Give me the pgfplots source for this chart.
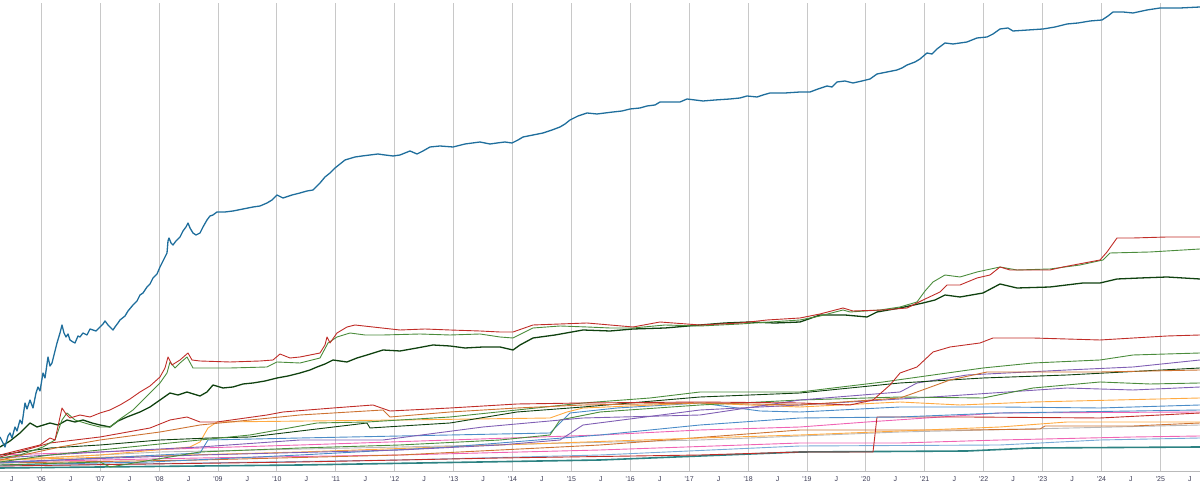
\documentclass[border=0pt]{standalone}
\usepackage{fontspec}
\usepackage{pgfplots}
\pgfplotsset{compat=1.18}
\newfontfamily\tickfont{Liberation Sans}
\definecolor{mainblue}{RGB}{31,110,156}
\definecolor{cred}{RGB}{192,45,40}
\definecolor{cgreen}{RGB}{75,140,60}
\definecolor{cdkgreen}{RGB}{15,65,15}
\definecolor{cpurple}{RGB}{128,95,180}
\definecolor{corange}{RGB}{255,170,65}
\definecolor{cbrown}{RGB}{205,115,50}
\definecolor{csteel}{RGB}{75,140,200}
\definecolor{cpink}{RGB}{240,100,180}
\definecolor{cteal}{RGB}{45,130,130}
\definecolor{clblue}{RGB}{120,170,215}
\definecolor{cgrey}{RGB}{185,185,185}
\definecolor{gridc}{RGB}{200,200,200}
\definecolor{labc}{RGB}{60,60,85}
\begin{document}
\begin{tikzpicture}
\begin{axis}[
  scale only axis, width=1200pt, height=468pt,
  xmin=0, xmax=1200, ymin=0, ymax=468,
  axis y line=none, axis x line*=bottom,
  x axis line style={draw=cgrey, line width=0.8pt, -},
  xtick={41.3,100.2,159.1,218.0,276.9,335.8,394.7,453.6,512.5,571.4,630.3,689.2,748.1,807.0,865.9,924.8,983.7,1042.6,1101.5,1160.4},
  xticklabels={{'06},{'07},{'08},{'09},{'10},{'11},{'12},{'13},{'14},{'15},{'16},{'17},{'18},{'19},{'20},{'21},{'22},{'23},{'24},{'25}},
  extra x ticks={11.85,70.75,129.65,188.55,247.45,306.35,365.25,424.15,483.05,541.95,600.85,659.75,718.65,777.55,836.45,895.35,954.25,1013.15,1072.05,1130.95,1189.85},
  extra x tick labels={J,J,J,J,J,J,J,J,J,J,J,J,J,J,J,J,J,J,J,J,J},
  extra x tick style={grid=none},
  major tick length=0pt,
  xmajorgrids, grid style={draw=gridc, line width=1pt},
  ticklabel style={font=\tickfont\fontsize{7}{8}\selectfont, text=labc},
  xticklabel style={anchor=center, yshift=-8pt},
  line join=round,
  every axis plot/.append style={line width=0.9pt},
]
% lower cluster
\addplot[cteal, line width=1.6pt] coordinates {(0,3)(300,6)(600,11)(800,19)(967,20)(1033,23)(1200,24)};
\addplot[clblue] coordinates {(0,5)(400,11)(600,16)(800,25)(1000,26)(1100,31)(1200,33)};
\addplot[cgrey] coordinates {(0,11)(160,19)(400,24)(700,31)(900,39)(1200,46)};
\addplot[cpink] coordinates {(0,9)(200,13)(400,16)(600,21)(800,28)(900,28)(1000,31)(1133,34)(1200,35)};
\addplot[cbrown] coordinates {(0,8)(200,11)(400,16)(600,26)(800,41)(967,41)(1040,42)(1045,45)(1133,45)(1200,48)};
\addplot[corange] coordinates {(0,11)(300,19)(500,26)(700,33)(800,36)(1000,44)(1067,49)(1200,49)};
\addplot[cpink] coordinates {(0,16)(100,19)(200,23)(300,26)(450,31)(600,36)(700,41)(800,44)(867,49)(1000,58)(1200,59)};
\addplot[cred] coordinates {(0,5)(300,9)(500,13)(700,16)(800,19)(873,19)(877,54)(967,54)(1100,53)(1200,58)};
\addplot[csteel] coordinates {(0,6)(150,9)(300,16)(450,24)(600,36)(700,46)(800,53)(900,54)(1000,58)(1200,61)};
\addplot[csteel] coordinates {(0,8)(100,13)(200,18)(208,31)(300,33)(400,35)(550,38)(570,58)(617,63)(700,68)(760,60)(800,59)(900,64)(1000,64)(1100,63)(1200,66)};
\addplot[corange] coordinates {(0,11)(100,16)(190,24)(200,29)(208,43)(217,49)(400,51)(550,53)(567,59)(583,63)(700,68)(800,64)(900,69)(960,66)(1033,69)(1200,73)};
\addplot[cpurple] coordinates {(0,9)(200,16)(400,21)(500,26)(560,31)(583,46)(700,61)(800,66)(933,74)(1067,83)(1133,81)(1200,84)};
\addplot[cgreen] coordinates {(0,6)(100,9)(110,4)(200,19)(300,23)(400,26)(500,31)(550,36)(560,51)(600,59)(700,66)(800,71)(900,74)(983,73)(1033,83)(1100,89)(1150,87)(1200,88)};
\addplot[cpurple] coordinates {(0,13)(100,19)(200,24)(300,31)(383,31)(483,44)(583,53)(700,56)(800,71)(900,79)(917,88)(967,96)(1067,101)(1133,104)(1200,111)};
\addplot[cdkgreen] coordinates {(0,16)(50,23)(100,26)(160,31)(210,33)(250,34)(367,48)(370,43)(450,48)(517,59)(583,64)(700,74)(800,78)(900,88)(983,93)(1067,96)(1200,103)};
\addplot[cgreen] coordinates {(0,9)(50,16)(100,21)(150,26)(200,31)(250,36)(317,48)(367,49)(450,54)(517,61)(583,68)(650,73)(700,79)(800,79)(833,83)(883,89)(933,96)(983,103)(1033,108)(1100,111)(1133,116)(1200,118)};
\addplot[cbrown] coordinates {(0,11)(60,24)(100,31)(160,39)(200,46)(250,51)(300,56)(383,61)(390,54)(450,59)(517,63)(583,66)(700,68)(800,66)(900,73)(917,79)(950,91)(987,99)(1100,99)(1200,101)};
\addplot[cred] coordinates {(0,14)(50,28)(100,34)(150,43)(170,51)(187,54)(200,49)(217,49)(267,56)(283,59)(333,63)(373,66)(390,60)(450,63)(517,67)(583,68)(700,69)(800,68)(850,66)(873,71)(890,86)(900,98)(917,104)(933,119)(950,124)(980,128)(993,133)(1033,133)(1100,131)(1167,135)(1200,136)};
% upper group
\addplot[cdkgreen, line width=1.3pt] coordinates {(0,24)(10,30)(20,38)(30,48)(37,44)(50,48)(58,46)(67,51)(75,49)(83,51)(92,48)(100,46)(110,44)(118,50)(127,54)(140,59)(150,64)(160,71)(170,78)(178,76)(187,79)(200,75)(207,79)(213,86)(223,83)(233,84)(243,87)(253,88)(265,90)(277,93)(288,95)(300,98)(310,101)(317,104)(325,107)(333,111)(347,109)(357,113)(367,116)(383,121)(400,120)(417,123)(433,126)(450,125)(465,123)(483,124)(500,124)(513,121)(520,126)(533,133)(555,136)(583,141)(610,140)(633,142)(665,143)(700,146)(725,148)(750,149)(775,148)(800,149)(820,156)(845,156)(867,154)(877,159)(900,163)(923,168)(935,171)(945,176)(960,174)(983,178)(1000,187)(1017,183)(1050,184)(1083,188)(1100,188)(1117,192)(1140,193)(1167,194)(1200,192)};
\addplot[cgreen] coordinates {(0,13)(20,16)(43,24)(55,31)(62,51)(67,58)(75,51)(88,47)(100,44)(110,44)(120,52)(133,61)(140,68)(150,78)(160,88)(167,98)(170,109)(175,103)(180,108)(187,114)(193,103)(230,103)(267,104)(277,109)(300,108)(320,113)(328,128)(337,134)(350,138)(365,136)(383,136)(420,137)(450,136)(480,137)(500,134)(513,133)(533,143)(560,145)(587,144)(610,143)(633,143)(665,146)(700,145)(740,147)(770,149)(800,151)(820,155)(843,161)(850,159)(880,161)(900,164)(917,169)(925,180)(933,189)(945,196)(960,194)(977,199)(1000,204)(1017,201)(1050,202)(1080,206)(1103,211)(1110,218)(1150,219)(1200,222)};
\addplot[cred] coordinates {(0,16)(20,21)(40,26)(50,33)(55,31)(62,63)(66,57)(70,53)(80,56)(90,54)(100,58)(110,61)(120,66)(130,72)(140,79)(150,85)(160,94)(165,103)(168,114)(172,106)(180,111)(188,118)(192,111)(200,110)(230,109)(260,110)(273,111)(280,117)(290,113)(300,114)(320,118)(325,126)(327,134)(330,128)(337,138)(347,144)(355,146)(373,144)(400,141)(425,142)(450,141)(480,140)(500,139)(513,139)(533,146)(560,147)(587,148)(610,146)(633,144)(660,149)(700,146)(740,148)(767,151)(800,153)(820,157)(843,163)(853,160)(883,161)(907,163)(923,171)(940,179)(947,186)(960,186)(977,193)(990,196)(1000,204)(1010,201)(1050,201)(1063,204)(1100,211)(1107,219)(1117,233)(1133,233)(1167,234)(1200,234)};
% main blue
\addplot[mainblue, line width=1.3pt] coordinates {(0,34)(3,28)(5,24)(8,35)(10,38)(12,33)(15,44)(17,40)(20,51)(22,47)(25,68)(27,62)(30,71)(33,63)(36,78)(38,84)(40,80)(43,98)(45,93)(48,114)(50,105)(52,108)(55,120)(57,128)(60,138)(62,146)(64,138)(66,134)(68,137)(70,131)(73,129)(75,128)(78,135)(80,134)(83,138)(87,136)(90,142)(93,141)(96,140)(100,144)(103,147)(105,150)(108,146)(110,144)(113,141)(115,144)(118,148)(120,151)(125,155)(128,160)(133,166)(137,170)(140,176)(143,178)(147,184)(150,187)(153,193)(157,197)(160,204)(163,210)(165,214)(167,218)(168,230)(169,233)(171,228)(173,226)(176,230)(180,234)(183,240)(186,244)(188,248)(190,243)(193,238)(196,236)(200,238)(203,244)(207,251)(210,255)(213,256)(217,259)(225,259)(233,260)(243,262)(253,264)(260,265)(267,268)(272,271)(277,276)(283,273)(292,276)(300,278)(307,280)(313,281)(317,285)(320,288)(325,294)(330,298)(335,303)(340,307)(345,311)(355,314)(362,315)(370,316)(378,317)(385,316)(393,315)(400,316)(405,318)(410,320)(417,317)(423,320)(430,324)(440,325)(453,324)(465,327)(480,329)(490,327)(497,328)(505,329)(512,328)(518,331)(523,334)(533,336)(543,338)(552,341)(560,344)(565,347)(570,351)(578,355)(587,358)(597,357)(605,358)(613,359)(622,360)(630,362)(640,363)(647,365)(655,366)(660,369)(670,369)(680,369)(687,372)(695,371)(703,370)(715,371)(730,372)(740,373)(747,375)(757,374)(763,376)(770,378)(785,378)(800,379)(810,379)(818,382)(827,385)(832,384)(837,389)(845,390)(853,388)(862,390)(870,392)(877,397)(887,399)(897,401)(902,403)(907,406)(915,409)(920,412)(927,418)(932,417)(937,422)(945,428)(953,427)(960,428)(967,429)(977,433)(987,434)(993,437)(1000,442)(1008,443)(1013,440)(1028,441)(1043,442)(1055,444)(1067,447)(1078,448)(1090,450)(1102,451)(1108,455)(1113,459)(1123,459)(1133,458)(1147,461)(1160,463)(1180,463)(1200,464)};
\end{axis}
\pgfresetboundingbox
\useasboundingbox (current axis.south west) ++(0,-15pt) rectangle ([yshift=3pt]current axis.north east);
\end{tikzpicture}
\end{document}
